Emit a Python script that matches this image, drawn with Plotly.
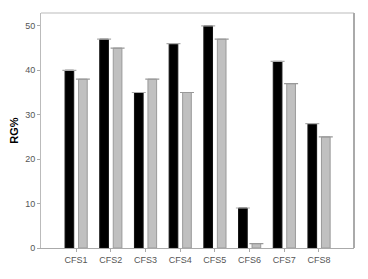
import plotly.graph_objects as go

categories = ["CFS1", "CFS2", "CFS3", "CFS4", "CFS5", "CFS6", "CFS7", "CFS8"]
series_black = [40, 47, 35, 46, 50, 9, 42, 28]
series_gray = [38, 45, 38, 35, 47, 1, 37, 25]
y_ticks = [0, 10, 20, 30, 40, 50]

fig = go.Figure()
fig.add_trace(go.Bar(
    x=categories, y=series_black, width=0.25, offset=-0.317,
    marker=dict(color="#000000", line=dict(color="#111111", width=1)),
    error_y=dict(type="data", array=[0] * len(categories), visible=True,
                 color="#aaaaaa", thickness=1.2, width=7),
    showlegend=False,
))
fig.add_trace(go.Bar(
    x=categories, y=series_gray, width=0.25, offset=0.072,
    marker=dict(color="#c0c0c0", line=dict(color="#9a9a9a", width=1)),
    error_y=dict(type="data", array=[0] * len(categories), visible=True,
                 color="#999999", thickness=1.2, width=7),
    showlegend=False,
))

fig.update_layout(
    width=368, height=279,
    margin=dict(l=41, r=14, t=13, b=31),
    paper_bgcolor="white", plot_bgcolor="white",
    barmode="group",
    font=dict(family="Liberation Sans, Arial, sans-serif", size=9, color="#555555"),
    xaxis=dict(range=[-1.01, 8.01], showgrid=False, zeroline=False, automargin=False,
               showline=True, linecolor="#aaaaaa", linewidth=1,
               ticks="outside", ticklen=3, tickcolor="#aaaaaa",
               tickfont=dict(size=9, color="#555555")),
    yaxis=dict(range=[0, 52.9], showgrid=False, zeroline=False, automargin=False,
               tickvals=y_ticks, showline=True, linecolor="#bbbbbb", linewidth=1,
               ticks="outside", ticklen=3, tickcolor="#aaaaaa",
               tickfont=dict(size=9, color="#555555"),
               title=dict(text="<b>RG%</b>", font=dict(size=11, color="#000000"),
                          standoff=4)),
)
fig.add_shape(type="line", xref="paper", yref="paper", x0=0, x1=1, y0=1, y1=1,
              line=dict(color="#bbbbbb", width=1))
fig.add_shape(type="line", xref="paper", yref="paper", x0=1, x1=1, y0=0, y1=1,
              line=dict(color="#aaaaaa", width=2))

fig.write_html("out.html", config={"displayModeBar": False},
               post_script="document.body.style.margin='0';")
